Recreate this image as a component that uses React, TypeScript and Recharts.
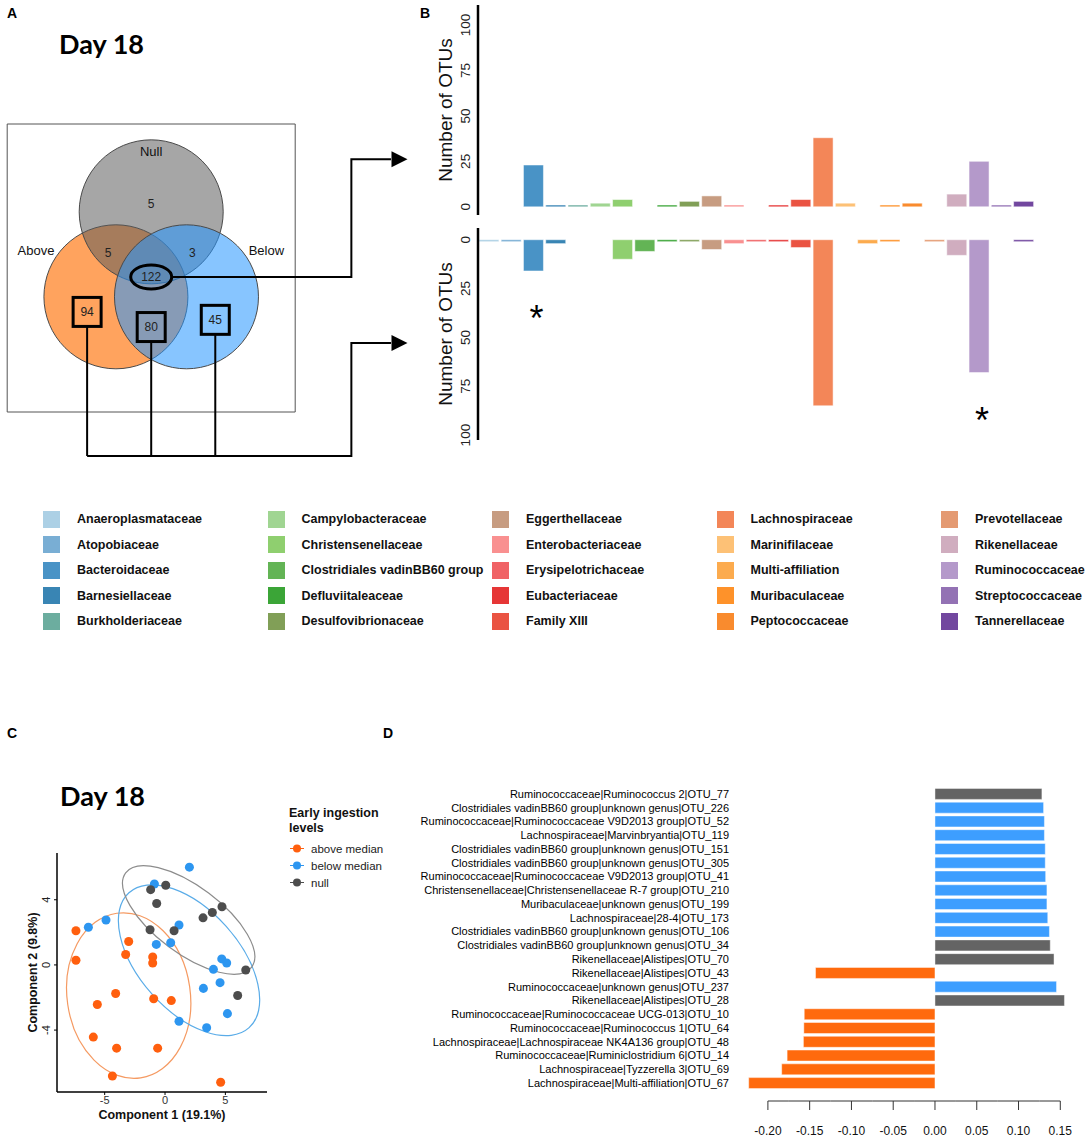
import React from 'react';
import {
  BarChart, Bar, Cell, XAxis, YAxis, ZAxis, Label, LabelList,
  ScatterChart, Scatter, ReferenceArea,
} from 'recharts';

const SANS = '"Liberation Sans", Arial, Helvetica, sans-serif';
const HEAVY = 'Lato, "Open Sans", sans-serif';

// ---------- families (panel B + legend) ----------
const families = [
  'Anaeroplasmataceae', 'Atopobiaceae', 'Bacteroidaceae', 'Barnesiellaceae', 'Burkholderiaceae',
  'Campylobacteraceae', 'Christensenellaceae', 'Clostridiales vadinBB60 group', 'Defluviitaleaceae', 'Desulfovibrionaceae',
  'Eggerthellaceae', 'Enterobacteriaceae', 'Erysipelotrichaceae', 'Eubacteriaceae', 'Family XIII',
  'Lachnospiraceae', 'Marinifilaceae', 'Multi-affiliation', 'Muribaculaceae', 'Peptococcaceae',
  'Prevotellaceae', 'Rikenellaceae', 'Ruminococcaceae', 'Streptococcaceae', 'Tannerellaceae',
];
const familyColors = [
  '#A8CEE4', '#72AAD2', '#3F8DC3', '#2E7EB0', '#64A99A',
  '#9BD38C', '#89CC67', '#5BB04C', '#30A02C', '#7A9A4E',
  '#C4977A', '#F98A8A', '#EF5A5D', '#E52B2B', '#E94A38',
  '#F27F4F', '#FDBE6F', '#FCA645', '#FE8C1F', '#F98523',
  '#E3956A', '#CEA9BC', '#B094C7', '#8D6AB0', '#6A3D9A',
];
// OTUs shared by the three groups (122) and OTUs specific to intake groups (94 + 80 + 45)
const sharedOtus = [0, 0, 23, 1, 1, 2, 4, 0, 1, 3, 6, 1, 0, 1, 4, 38, 2, 0, 1, 2, 0, 7, 25, 1, 3];
const specificOtus = [1, 1, 16, 2, 0, 0, 10, 6, 1, 1, 5, 2, 1, 1, 4, 85, 0, 2, 1, 0, 1, 8, 68, 0, 1];
const significantFamilies = ['Bacteroidaceae', 'Ruminococcaceae'];
const otuTicks = [0, 25, 50, 75, 100];

// ---------- panel A: venn ----------
const vennSets = ['Above', 'Null', 'Below'];
const vennSetColors = ['#FFA35E', '#5B5B5B', '#2495FF'];
const vennSetOpacity = [1, 0.54, 0.55];
const vennRegions = ['Null', 'Above&Null', 'Null&Below', 'Above&Null&Below', 'Above', 'Above&Below', 'Below'];
const vennCounts = [5, 5, 3, 122, 94, 80, 45];
const sharedRegions = ['Above&Null&Below'];
const specificRegions = ['Above', 'Above&Below', 'Below'];

// ---------- panel C: sPLS-DA individuals ----------
const cGroups = ['above median', 'below median', 'null'];
const cColors = ['#FF5F0E', '#2D96F0', '#4D4D4D'];
const cEllipseColors = ['#F59A62', '#5AACE8', '#8C8C8C'];
const aboveX = [-7.38, -7.38, -3.01, -3.26, -1.02, -1.02, -4.09, -5.61, -0.94, 0.52, -5.94, -4.01, -0.61, -4.36, 4.61];
const aboveY = [2.10, 0.29, 1.44, 0.64, 0.49, 0.12, -1.75, -2.43, -2.08, -2.19, -4.43, -5.11, -5.11, -6.82, -7.20];
const belowX = [2.02, -0.88, -4.89, -6.35, 1.16, -0.72, 0.47, 4.70, 5.11, 4.01, 4.56, 3.18, 1.16, 3.45, 5.17];
const belowY = [6.00, 4.97, 2.76, 2.31, 2.45, 1.26, 1.36, 0.37, 0.12, -0.27, -1.09, -1.44, -3.46, -3.86, -2.99];
const nullX = [-1.19, 0.06, -0.69, 4.72, 3.92, 3.15, -1.24, 0.75, 6.69, 6.02];
const nullY = [4.62, 4.89, 3.77, 3.57, 3.22, 2.89, 2.16, 2.10, -0.31, -1.88];
// confidence ellipses: centre + two conjugate semi-axis vectors (data units)
const ellipseCentres = [[-3.01, -1.88], [1.99, 0.29], [1.96, 2.76]];
const ellipseAxisU = [[0.99, -5.05], [4.98, -4.14], [5.22, -2.89]];
const ellipseAxisV = [[5.05, 0.55], [3.08, 2.07], [1.65, 1.65]];

// ---------- panel D: loadings ----------
const dLabels = [
  'Ruminococcaceae|Ruminococcus 2|OTU_77',
  'Clostridiales vadinBB60 group|unknown genus|OTU_226',
  'Ruminococcaceae|Ruminococcaceae V9D2013 group|OTU_52',
  'Lachnospiraceae|Marvinbryantia|OTU_119',
  'Clostridiales vadinBB60 group|unknown genus|OTU_151',
  'Clostridiales vadinBB60 group|unknown genus|OTU_305',
  'Ruminococcaceae|Ruminococcaceae V9D2013 group|OTU_41',
  'Christensenellaceae|Christensenellaceae R-7 group|OTU_210',
  'Muribaculaceae|unknown genus|OTU_199',
  'Lachnospiraceae|28-4|OTU_173',
  'Clostridiales vadinBB60 group|unknown genus|OTU_106',
  'Clostridiales vadinBB60 group|unknown genus|OTU_34',
  'Rikenellaceae|Alistipes|OTU_70',
  'Rikenellaceae|Alistipes|OTU_43',
  'Ruminococcaceae|unknown genus|OTU_237',
  'Rikenellaceae|Alistipes|OTU_28',
  'Ruminococcaceae|Ruminococcaceae UCG-013|OTU_10',
  'Ruminococcaceae|Ruminococcus 1|OTU_64',
  'Lachnospiraceae|Lachnospiraceae NK4A136 group|OTU_48',
  'Ruminococcaceae|Ruminiclostridium 6|OTU_14',
  'Lachnospiraceae|Tyzzerella 3|OTU_69',
  'Lachnospiraceae|Multi-affiliation|OTU_67',
];
const dLoadings = [
  0.128, 0.130, 0.131, 0.131, 0.132, 0.132, 0.1325, 0.134, 0.134, 0.135, 0.137,
  0.138, 0.1425, -0.143, 0.1455, 0.155, -0.1565, -0.157, -0.1575, -0.177, -0.1835, -0.223,
];
const dGroups = [
  'null', 'below', 'below', 'below', 'below', 'below', 'below', 'below', 'below', 'below', 'below',
  'null', 'null', 'above', 'below', 'null', 'above', 'above', 'above', 'above', 'above', 'above',
];
const dGroupColors = { above: '#FF6200', below: '#3399FF', null: '#5C5C5C' };
const dTicks = [-0.2, -0.15, -0.1, -0.05, 0, 0.05, 0.1, 0.15];

// ---------- derived tables ----------
const bData = families.map((f, i) => ({
  family: f,
  shared: sharedOtus[i],
  specific: specificOtus[i],
  mark: significantFamilies.includes(f) ? '*' : '',
}));
const dData = dLabels.map((l, i) => ({ label: l, value: dLoadings[i], group: dGroups[i] }));
const cSeries = [
  aboveX.map((x, i) => ({ x, y: aboveY[i] })),
  belowX.map((x, i) => ({ x, y: belowY[i] })),
  nullX.map((x, i) => ({ x, y: nullY[i] })),
];
const cEllipses = ellipseCentres.map((c, i) => ({
  x: c[0], y: c[1], u: ellipseAxisU[i], v: ellipseAxisV[i], color: cEllipseColors[i],
}));

// venn geometry (unit = circle radius)
const VENN_PX = 72;
const vennCentre = { Above: [-0.49, -0.4], Null: [0, 0.78], Below: [0.49, -0.4] };
const vennSetLabelAt = { Above: [-1.6, 0.24], Null: [0, 1.625], Below: [1.6, 0.24] };
const vennRegionAt = {
  Null: [0, 0.89], 'Above&Null': [-0.6, 0.21], 'Null&Below': [0.57, 0.21],
  'Above&Null&Below': [0, -0.125], Above: [-0.89, -0.61], 'Above&Below': [0, -0.82], Below: [0.89, -0.72],
};
const BUS_X = 2.78, BUS_BOTTOM = -2.61, ARROW_BASE = 3.33, ARROW_TIP = 3.56;
const SHARED_ARROW_Y = 1.51, SPECIFIC_ARROW_Y = -1.04;

const vennCircles = vennSets.map((s, i) => ({
  x: vennCentre[s][0], y: vennCentre[s][1], fill: vennSetColors[i], opacity: vennSetOpacity[i],
}));
const vennSetLabels = vennSets.map((s) => ({ x: vennSetLabelAt[s][0], y: vennSetLabelAt[s][1], text: s }));
const vennCountLabels = vennRegions.map((r, i) => ({
  x: vennRegionAt[r][0], y: vennRegionAt[r][1], text: String(vennCounts[i]),
  mark: sharedRegions.includes(r) ? 'ellipse' : specificRegions.includes(r) ? 'box' : 'none',
}));
const sharedStart = vennRegionAt[sharedRegions[0]];
const sharedPath = [
  { x: sharedStart[0] + 21 / VENN_PX, y: sharedStart[1] },
  { x: BUS_X, y: sharedStart[1] },
  { x: BUS_X, y: SHARED_ARROW_Y },
  { x: ARROW_BASE, y: SHARED_ARROW_Y },
];
const specificDrops = specificRegions.map((r) => [
  { x: vennRegionAt[r][0], y: vennRegionAt[r][1] - 14.5 / VENN_PX },
  { x: vennRegionAt[r][0], y: BUS_BOTTOM },
]);
const specificBus = [
  { x: vennRegionAt[specificRegions[0]][0], y: BUS_BOTTOM },
  { x: BUS_X, y: BUS_BOTTOM },
  { x: BUS_X, y: SPECIFIC_ARROW_Y },
  { x: ARROW_BASE, y: SPECIFIC_ARROW_Y },
];
const arrowTips = [{ x: ARROW_TIP, y: SHARED_ARROW_Y }, { x: ARROW_TIP, y: SPECIFIC_ARROW_Y }];

// panel C / D scale helpers
const C_XDOM = [-8.95, 8.45];
const C_YDOM = [-7.8, 6.87];
const C_W = 210, C_H = 239;
const C_SX = C_W / (C_XDOM[1] - C_XDOM[0]);
const C_SY = C_H / (C_YDOM[1] - C_YDOM[0]);
const D_DOM = [-0.2334, 0.1712];
const D_W = 338;
const D_PX = D_W / (D_DOM[1] - D_DOM[0]);

const Nothing = () => <g />;

const VennCircle = (p: any) => (
  <circle cx={p.cx} cy={p.cy} r={VENN_PX} fill={p.payload.fill} fillOpacity={p.payload.opacity}
    stroke="#4a4a4a" strokeWidth={1} />
);
const VennSetText = (p: any) => (
  <text x={p.cx} y={p.cy} textAnchor="middle" dy="0.35em" fontSize={13} fontFamily={SANS} fill="#111">
    {p.payload.text}
  </text>
);
const VennCountText = (p: any) => (
  <g>
    {p.payload.mark === 'box' && (
      <rect x={p.cx - 14} y={p.cy - 14.5} width={28} height={29} fill="none" stroke="#000" strokeWidth={3} />
    )}
    {p.payload.mark === 'ellipse' && (
      <ellipse cx={p.cx} cy={p.cy} rx={20.5} ry={12} fill="none" stroke="#000" strokeWidth={3} />
    )}
    <text x={p.cx} y={p.cy} textAnchor="middle" dy="0.35em" fontSize={12} fontFamily={SANS} fill="#222">
      {p.payload.text}
    </text>
  </g>
);
const ArrowHead = (p: any) => (
  <polygon points={`${p.cx},${p.cy} ${p.cx - 16},${p.cy - 8} ${p.cx - 16},${p.cy + 8}`} fill="#000" />
);

const RotTick = (fontSize: number) => (p: any) => (
  <text x={p.x} y={p.y} transform={`rotate(-90, ${p.x}, ${p.y})`} textAnchor="middle" dy="0.35em"
    fontSize={fontSize} fontFamily={SANS} fill="#222">
    {p.payload.value}
  </text>
);

const OtuAxisLabel = (p: any) => {
  const vb = p.viewBox;
  const cx = vb.x + 25;
  const cy = vb.y + vb.height / 2;
  return (
    <text x={cx} y={cy} transform={`rotate(-90, ${cx}, ${cy})`} textAnchor="middle" dy="0.35em"
      fontSize={19} fontFamily={SANS} fill="#111">
      Number of OTUs
    </text>
  );
};

const Star = (p: any) => {
  if (!p.value) return null;
  const vb = p.viewBox || p;
  const end = Math.max(vb.y, vb.y + vb.height);
  return (
    <text x={vb.x + vb.width / 2 + 3} y={end + 60} textAnchor="middle" fontSize={36} fontFamily={SANS} fill="#000">
      {p.value}
    </text>
  );
};

const EllipseShape = (p: any) => {
  const { u, v, color } = p.payload;
  const m = [u[0] * C_SX, -u[1] * C_SY, v[0] * C_SX, -v[1] * C_SY, p.cx, p.cy];
  return (
    <circle r={1} transform={`matrix(${m.join(' ')})`} fill="none" stroke={color} strokeWidth={1.2}
      vectorEffect="non-scaling-stroke" />
  );
};

const CompTwoLabel = (p: any) => {
  const vb = p.viewBox;
  const cx = vb.x + 33;
  const cy = vb.y + vb.height / 2;
  return (
    <text x={cx} y={cy} transform={`rotate(-90, ${cx}, ${cy})`} textAnchor="middle" dy="0.35em"
      fontSize={12.5} fontWeight="bold" fontFamily={SANS} fill="#111">
      Component 2 (9.8%)
    </text>
  );
};

const DTick = (p: any) => {
  const v = p.payload.value;
  const half = 0.025 * D_PX;
  const first = v === dTicks[0];
  const last = v === dTicks[dTicks.length - 1];
  const ly = p.y + 11;
  return (
    <g>
      <line x1={first ? p.x : p.x - half} x2={last ? p.x : p.x + half} y1={ly} y2={ly} stroke="#333" strokeWidth={1} />
      <line x1={p.x} x2={p.x} y1={ly} y2={ly + 9} stroke="#333" strokeWidth={1} />
      <text x={p.x} y={ly + 30} textAnchor="middle" dy="0.35em" fontSize={12} fontFamily={SANS} fill="#111">
        {v.toFixed(2)}
      </text>
    </g>
  );
};

const DLabelTick = (p: any) => (
  <text x={p.x} y={p.y} textAnchor="end" dy="0.35em" fontSize={11} fontFamily={SANS} fill="#000">
    {p.payload.value}
  </text>
);

const panelLetter = (txt: string, left: number, top: number) => (
  <div style={{ position: 'absolute', left, top, fontFamily: SANS, fontWeight: 'bold', fontSize: 14, color: '#000', lineHeight: '14px' }}>
    {txt}
  </div>
);
const dayTitle = (left: number, top: number) => (
  <div style={{ position: 'absolute', left, top, fontFamily: HEAVY, fontWeight: 'bold', fontSize: 27, color: '#000', lineHeight: '30px' }}>
    Day 18
  </div>
);

export default function App() {
  return (
    <div style={{ position: 'absolute', left: 0, top: 0, width: 1088, height: 1138, background: '#fff', overflow: 'hidden' }}>
      {panelLetter('A', 7, 6)}
      {panelLetter('B', 420, 6)}
      {panelLetter('C', 7, 726)}
      {panelLetter('D', 383, 726)}
      {dayTitle(59, 29)}
      {dayTitle(60, 781)}

      {/* Panel A: venn diagram */}
      <div style={{ position: 'absolute', left: 0, top: 0 }}>
        <ScatterChart width={422} height={463} margin={{ top: 52, right: 0.8, bottom: 0.6, left: 0 }}>
          <XAxis type="number" dataKey="x" domain={[-2.1, 3.75]} allowDataOverflow hide />
          <YAxis type="number" dataKey="y" domain={[-2.7, 3]} allowDataOverflow hide />
          <ReferenceArea x1={-2} x2={2} y1={-2} y2={2} fill="none" stroke="#555" strokeWidth={1} ifOverflow="visible" />
          <Scatter data={vennCircles} shape={VennCircle} isAnimationActive={false} />
          <Scatter data={vennSetLabels} shape={VennSetText} isAnimationActive={false} />
          <Scatter data={vennCountLabels} shape={VennCountText} isAnimationActive={false} />
          <Scatter data={sharedPath} line={{ stroke: '#000', strokeWidth: 2 }} shape={Nothing} isAnimationActive={false} />
          {specificDrops.map((d, i) => (
            <Scatter key={i} data={d} line={{ stroke: '#000', strokeWidth: 2 }} shape={Nothing} isAnimationActive={false} />
          ))}
          <Scatter data={specificBus} line={{ stroke: '#000', strokeWidth: 2 }} shape={Nothing} isAnimationActive={false} />
          <Scatter data={arrowTips} shape={ArrowHead} isAnimationActive={false} />
        </ScatterChart>
      </div>

      {/* Panel B: shared OTUs (top) */}
      <div style={{ position: 'absolute', left: 420, top: 0 }}>
        <BarChart width={640} height={230} data={bData} margin={{ top: 5, right: 25, bottom: 15, left: 0 }} barCategoryGap="4%">
          <XAxis dataKey="family" height={0} tick={false} tickLine={false} axisLine={{ stroke: '#000', strokeWidth: 2.5 }} />
          <YAxis type="number" domain={[-4.5, 111]} ticks={otuTicks} allowDataOverflow width={58}
            axisLine={{ stroke: '#000', strokeWidth: 2.5 }} tickLine={false} tickSize={0} tickMargin={13}
            tick={RotTick(13.5)} interval={0}>
            <Label content={OtuAxisLabel} />
          </YAxis>
          <Bar dataKey="shared" isAnimationActive={false} stroke="#fff" strokeOpacity={0.5} strokeWidth={1}>
            {bData.map((d, i) => <Cell key={d.family} fill={familyColors[i]} fillOpacity={0.95} />)}
          </Bar>
        </BarChart>
      </div>

      {/* Panel B: intake-group specific OTUs (bottom) */}
      <div style={{ position: 'absolute', left: 420, top: 220 }}>
        <BarChart width={640} height={230} data={bData} margin={{ top: 8, right: 25, bottom: 10, left: 0 }} barCategoryGap="4%">
          <XAxis dataKey="family" hide />
          <YAxis type="number" domain={[-6, 102.5]} reversed ticks={otuTicks} allowDataOverflow width={58}
            axisLine={{ stroke: '#000', strokeWidth: 2.5 }} tickLine={false} tickSize={0} tickMargin={13}
            tick={RotTick(13.5)} interval={0}>
            <Label content={OtuAxisLabel} />
          </YAxis>
          <Bar dataKey="specific" isAnimationActive={false} stroke="#fff" strokeOpacity={0.5} strokeWidth={1}>
            {bData.map((d, i) => <Cell key={d.family} fill={familyColors[i]} fillOpacity={0.95} />)}
            <LabelList dataKey="mark" content={Star} />
          </Bar>
        </BarChart>
      </div>

      {/* Family legend */}
      {families.map((f, i) => (
        <div key={f} style={{
          position: 'absolute', left: 43 + Math.floor(i / 5) * 224.5, top: 510.5 + (i % 5) * 25.5,
          display: 'flex', alignItems: 'center', height: 17,
        }}>
          <div style={{ width: 17, height: 17, background: familyColors[i], opacity: 0.95 }} />
          <span style={{ marginLeft: 17, fontFamily: SANS, fontWeight: 'bold', fontSize: 12.5, color: '#111', whiteSpace: 'nowrap' }}>
            {f}
          </span>
        </div>
      ))}

      {/* Panel C: individuals plot */}
      <div style={{ position: 'absolute', left: 0, top: 840 }}>
        <ScatterChart width={280} height={282} margin={{ top: 13, right: 13, bottom: 0, left: 0 }}>
          <XAxis type="number" dataKey="x" domain={C_XDOM} ticks={[-5, 0, 5]} allowDataOverflow height={30}
            axisLine={{ stroke: '#000', strokeWidth: 1.5 }} tickLine={{ stroke: '#000' }} tickSize={3} tickMargin={1}
            tick={{ fontSize: 11, fill: '#333', fontFamily: SANS }} interval={0}>
            <Label value="Component 1 (19.1%)" position="insideBottom" offset={3}
              style={{ fontSize: 12.5, fontWeight: 'bold', fontFamily: SANS, fill: '#111' }} />
          </XAxis>
          <YAxis type="number" dataKey="y" domain={C_YDOM} ticks={[-4, 0, 4]} allowDataOverflow width={57}
            axisLine={{ stroke: '#000', strokeWidth: 1.5 }} tickLine={{ stroke: '#000' }} tickSize={3} tickMargin={7.5}
            tick={RotTick(11)} interval={0}>
            <Label content={CompTwoLabel} />
          </YAxis>
          <ZAxis range={[46, 46]} />
          <Scatter data={cEllipses} shape={EllipseShape} isAnimationActive={false} />
          {cSeries.map((s, i) => (
            <Scatter key={cGroups[i]} name={cGroups[i]} data={s} fill={cColors[i]} shape="circle" isAnimationActive={false} />
          ))}
        </ScatterChart>
      </div>

      {/* Panel C legend */}
      <div style={{ position: 'absolute', left: 289, top: 806, fontFamily: SANS, fontWeight: 'bold', fontSize: 12.5, lineHeight: '15px', color: '#111' }}>
        Early ingestion<br />levels
      </div>
      {cGroups.map((g, i) => (
        <div key={g} style={{ position: 'absolute', left: 290, top: 840 + i * 17, height: 17, display: 'flex', alignItems: 'center' }}>
          <svg width={14} height={17}>
            <line x1={0} x2={14} y1={8.5} y2={8.5} stroke={cColors[i]} strokeWidth={1} />
            <circle cx={7} cy={8.5} r={4} fill={cColors[i]} />
          </svg>
          <span style={{ marginLeft: 7, fontFamily: SANS, fontSize: 11.5, color: '#222' }}>{g}</span>
        </div>
      ))}

      {/* Panel D: loadings */}
      <div style={{ position: 'absolute', left: 380, top: 780 }}>
        <BarChart width={708} height={358} layout="vertical" data={dData}
          margin={{ top: 7, right: 10, bottom: 0, left: 0 }} barCategoryGap="10%">
          <XAxis type="number" domain={D_DOM} ticks={dTicks} allowDataOverflow height={48}
            axisLine={false} tickLine={false} tickSize={0} tickMargin={0} tick={DTick} interval={0} />
          <YAxis type="category" dataKey="label" width={360} axisLine={false} tickLine={false}
            tickSize={0} tickMargin={11} interval={0} tick={DLabelTick} />
          <Bar dataKey="value" isAnimationActive={false} stroke="#fff" strokeOpacity={0.45} strokeWidth={1}>
            {dData.map((d) => <Cell key={d.label} fill={dGroupColors[d.group]} fillOpacity={0.95} />)}
          </Bar>
        </BarChart>
      </div>
    </div>
  );
}
